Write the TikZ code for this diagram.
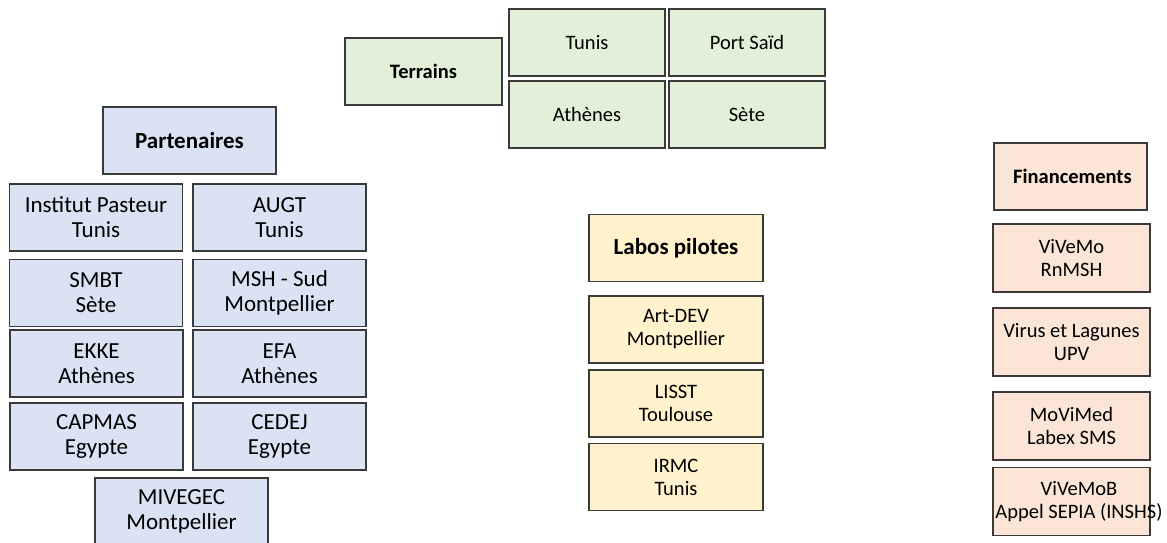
\documentclass[tikz,border=0pt]{standalone}
\usepackage{fontspec}
\setmainfont{Carlito}
\definecolor{bluefill}{HTML}{DAE3F3}
\definecolor{greenfill}{HTML}{E2F0D9}
\definecolor{yellowfill}{HTML}{FFF2CC}
\definecolor{peachfill}{HTML}{FBE5D6}
\definecolor{edge}{HTML}{3A3A3A}
\tikzset{
  box/.style={draw=edge, line width=1.3pt, rectangle, inner sep=0pt, align=center},
  bigtxt/.style={font=\fontsize{23}{25}\selectfont},
  smalltxt/.style={font=\fontsize{20.5}{23}\selectfont},
  partbox/.style={box, bigtxt, fill=bluefill, minimum width=173pt, minimum height=67pt},
  terbox/.style={box, smalltxt, fill=greenfill, minimum width=156pt, minimum height=67pt},
  labbox/.style={box, smalltxt, fill=yellowfill, minimum width=174pt, minimum height=67pt},
  finbox/.style={box, smalltxt, fill=peachfill, minimum width=157pt, minimum height=68pt},
}
\begin{document}
\begin{tikzpicture}[x=1pt, y=-1pt]
\useasboundingbox (0,0) rectangle (1167,543);
\clip (0,0) rectangle (1167,543);
% Partenaires
\node[partbox, font=\fontsize{23}{25}\selectfont\bfseries] (part) at (189.5,140.5) {Partenaires};
\node[partbox] (ip) at (96,217.5) {Institut Pasteur\\Tunis};
\node[partbox] (augt) at (279.5,217.5) {AUGT\\Tunis};
\node[partbox] (smbt) at (96,293) {SMBT\\Sète};
\node[partbox] (msh) at (279.5,293) {MSH - Sud\\Montpellier};
\node[partbox] (ekke) at (96.5,363.5) {EKKE\\Athènes};
\node[partbox] (efa) at (279.5,363.5) {EFA\\Athènes};
\node[partbox] (capmas) at (96.5,436.5) {CAPMAS\\Egypte};
\node[partbox] (cedej) at (279.5,436.5) {CEDEJ\\Egypte};
\node[partbox] (mivegec) at (181.5,511.5) {MIVEGEC\\Montpellier};
% Terrains
\node[terbox, minimum width=157pt, font=\fontsize{20.5}{23}\selectfont\bfseries] (terr) at (423.5,71.5) {Terrains};
\node[terbox] (tunis) at (587,42.5) {Tunis};
\node[terbox] (psaid) at (747,42.5) {Port Saïd};
\node[terbox] (athenes) at (587,114.5) {Athènes};
\node[terbox] (sete) at (747,114.5) {Sète};
% Labos pilotes
\node[labbox, font=\fontsize{23}{25}\selectfont\bfseries] (labos) at (676,248) {Labos pilotes};
\node[labbox] (artdev) at (676,329.5) {Art-DEV\\Montpellier};
\node[labbox] (lisst) at (676,403.5) {LISST\\Toulouse};
\node[labbox] (irmc) at (676,477) {IRMC\\Tunis};
% Financements
\node[finbox, minimum width=153pt, minimum height=67pt] (fin) at (1070.5,176.5) {};
\node[anchor=west, inner sep=0pt, font=\fontsize{20.5}{23}\selectfont\bfseries] (fintxt) at (1013,176.5) {Financements};
\node[finbox] (vivemo) at (1071.5,258) {ViVeMo\\RnMSH};
\node[finbox] (virus) at (1071.5,342) {Virus et Lagunes\\UPV};
\node[finbox] (movimed) at (1071.5,426) {MoViMed\\Labex SMS};
\node[finbox] (vivemob) at (1071.5,501.5) {};
\node[inner sep=0pt, align=center, font=\fontsize{20.5}{23}\selectfont] (vivemobtxt) at (1079,501.5) {ViVeMoB\\Appel SEPIA (INSHS)};
\end{tikzpicture}
\end{document}
